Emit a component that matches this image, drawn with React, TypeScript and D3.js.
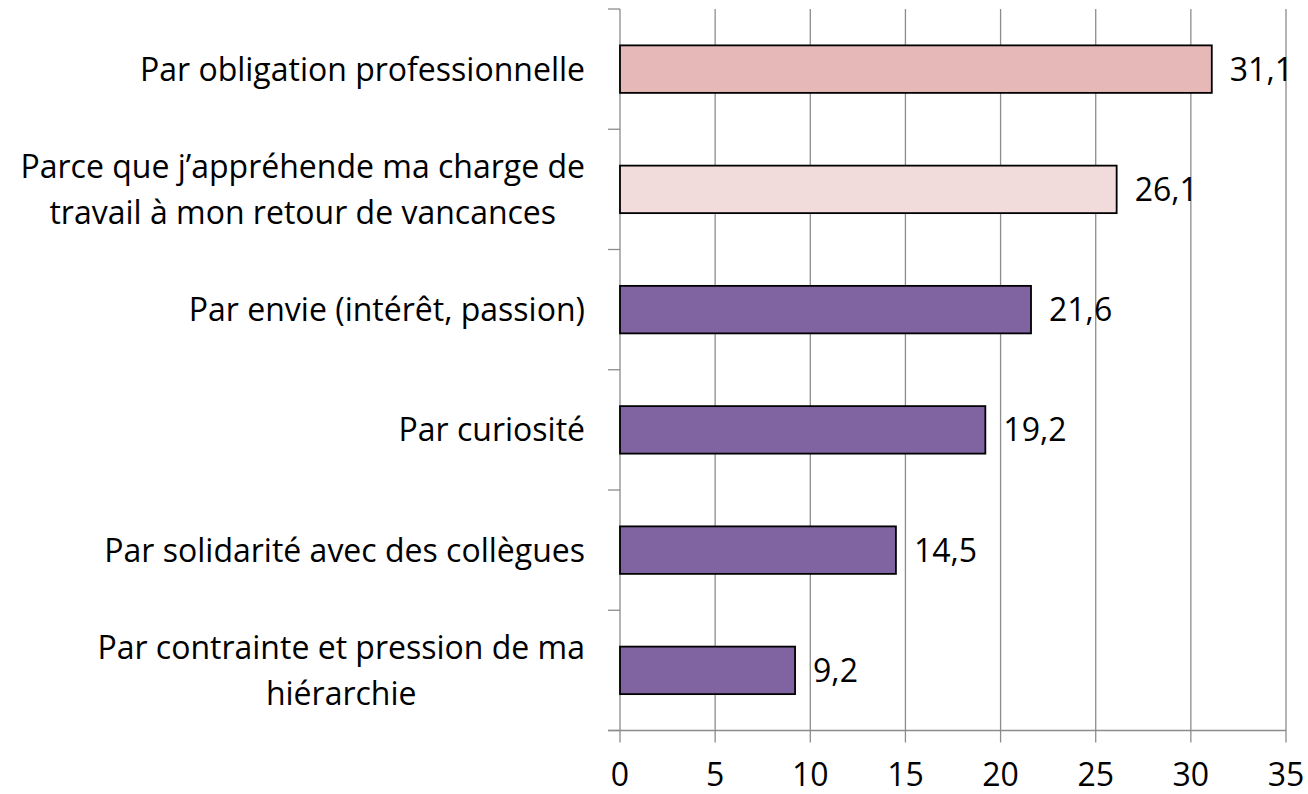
import React from "react";
import * as d3 from "d3";

// categories top to bottom, label lines split like the original
const categories = [
  ["Par obligation professionnelle"],
  ["Parce que j\u2019appréhende ma charge de", "travail à mon retour de vancances"],
  ["Par envie (intérêt, passion)"],
  ["Par curiosité"],
  ["Par solidarité avec des collègues"],
  ["Par contrainte et pression de ma", "hiérarchie"],
];
const values = [31.1, 26.1, 21.6, 19.2, 14.5, 9.2];
const barColors = ["#E6B9B8", "#F2DCDB", "#8064A2", "#8064A2", "#8064A2", "#8064A2"];
const xTicks = [0, 5, 10, 15, 20, 25, 30, 35];

const W = 1308;
const H = 794;
const FONT = "'Open Sans', sans-serif";
const FS = 32;

// measure text widths so wrapped labels can be centred inside a right-aligned block
const ctx = document.createElement("canvas").getContext("2d")!;
function textWidth(s: string) {
  ctx.font = `${FS}px 'Open Sans'`;
  return ctx.measureText(s).width;
}

export default function App() {
  const left = 620;
  const right = 1286;
  const top = 9;
  const bottom = 730.5;
  const labelRight = 585;

  const x = d3.scaleLinear().domain([0, 35]).range([left, right]);
  const y = d3.scaleBand<number>()
    .domain(d3.range(categories.length))
    .range([top, bottom]);
  const step = y.step();
  const barH = step * 0.395;
  const grid = "#8C8C8C";
  const fmt = (v: number) => String(v).replace(".", ",");
  const lineH = 46;

  return (
    <svg width={W} height={H} style={{ position: "absolute", left: 0, top: 0, background: "#fff" }}
      fontFamily={FONT}>
      {/* vertical gridlines + x ticks */}
      {xTicks.map((t) => (
        <line key={"g" + t} x1={x(t)} x2={x(t)} y1={top} y2={bottom + 12}
          stroke={grid} strokeWidth={1.3} />
      ))}
      {/* y axis ticks */}
      {d3.range(categories.length + 1).map((i) => (
        <line key={"yt" + i} x1={left - 12} x2={left} y1={top + i * step} y2={top + i * step}
          stroke={grid} strokeWidth={1.3} />
      ))}
      {/* x axis line */}
      <line x1={left - 12} x2={right} y1={bottom} y2={bottom} stroke={grid} strokeWidth={1.3} />

      {/* bars */}
      {values.map((v, i) => {
        const cy = (y(i) as number) + step / 2;
        return (
          <g key={"b" + i}>
            <rect x={x(0)} y={cy - barH / 2} width={x(v) - x(0)} height={barH}
              fill={barColors[i]} stroke="#000" strokeWidth={1.8} />
            <text x={x(v) + 18} y={cy} dy="0.36em" fontSize={FS} fill="#000">{fmt(v)}</text>
          </g>
        );
      })}

      {/* category labels */}
      {categories.map((lines, i) => {
        const cy = (y(i) as number) + step / 2;
        const y0 = cy - ((lines.length - 1) * lineH) / 2;
        const maxW = d3.max(lines, textWidth) as number;
        const cx = lines.length > 1 ? labelRight - maxW / 2 : labelRight;
        const anchor = lines.length > 1 ? "middle" : "end";
        return (
          <text key={"c" + i} fontSize={FS} fill="#000" textAnchor={anchor}>
            {lines.map((l, j) => (
              <tspan key={j} x={cx} y={y0 + j * lineH} dy="0.36em">{l}</tspan>
            ))}
          </text>
        );
      })}

      {/* x tick labels */}
      {xTicks.map((t) => (
        <text key={"xl" + t} x={x(t)} y={786} textAnchor="middle" fontSize={FS} fill="#000">{t}</text>
      ))}
    </svg>
  );
}
